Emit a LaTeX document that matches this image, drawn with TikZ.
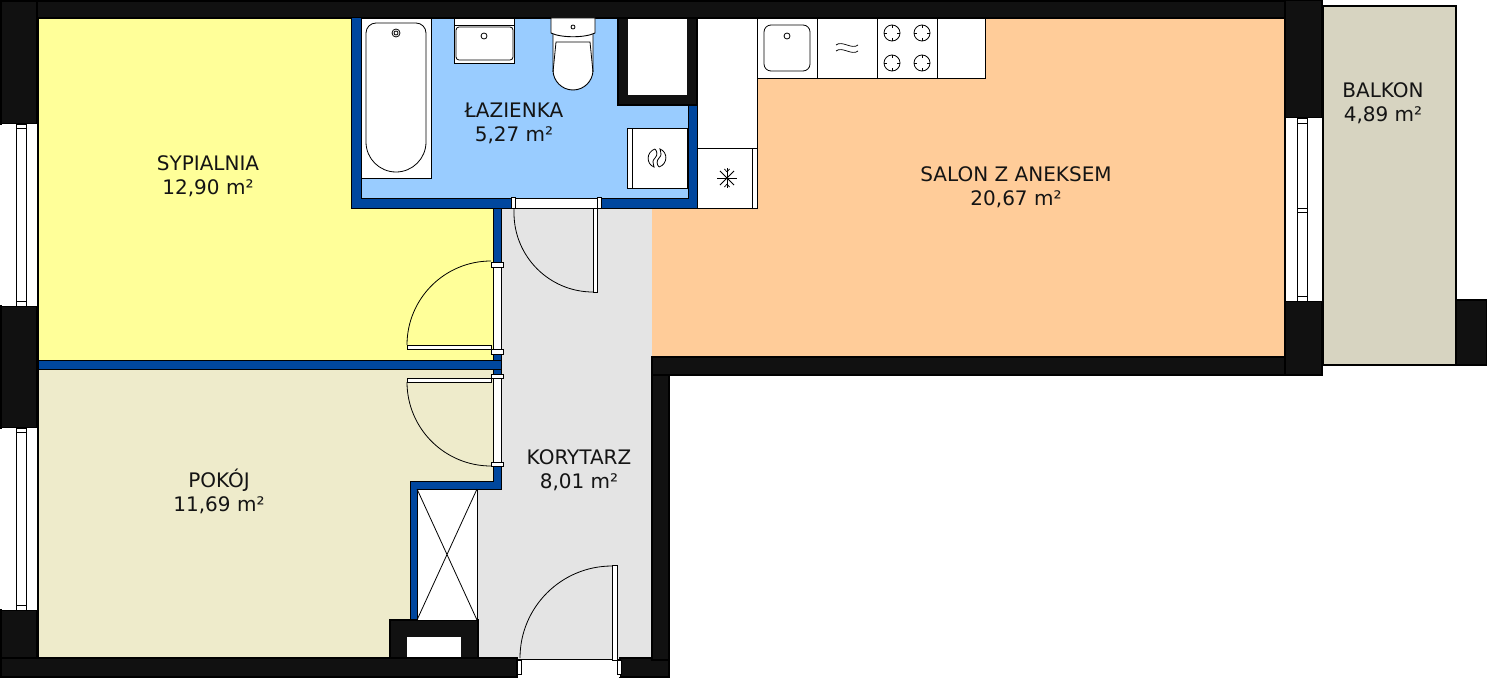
\documentclass[tikz,border=0pt]{standalone}
\usepackage{fontspec}
\setmainfont{DejaVu Sans}
\definecolor{wallc}{HTML}{111111}
\definecolor{bluewall}{HTML}{00479E}
\definecolor{sypialniac}{HTML}{FFFF99}
\definecolor{lazienkac}{HTML}{99CCFF}
\definecolor{salonc}{HTML}{FFCC99}
\definecolor{pokojc}{HTML}{EEEBCB}
\definecolor{korytarzc}{HTML}{E4E4E4}
\definecolor{balkonc}{HTML}{D7D4C1}
\tikzset{
  room/.style={fill=#1},
  wall/.style={fill=wallc,draw=black,line width=1.5pt},
  pwall/.style={fill=bluewall,draw=black,line width=1pt},
  fixture/.style={fill=white,draw=black,line width=.9pt},
  thinl/.style={draw=black,line width=.8pt},
  roomlabel/.style={font=\fontsize{20}{24}\selectfont,align=center,text=black!92,inner sep=0pt}
}
\begin{document}
\begin{tikzpicture}[x=1pt,y=-1pt]
\useasboundingbox (0,0) rectangle (1487,677);

\fill[room=sypialniac] (38,18) rectangle (497,360);
\fill[room=pokojc] (38,365) -- (497,365) -- (497,485) -- (414,485) -- (414,658) -- (38,658) -- cycle;
\fill[room=korytarzc] (501,205) -- (656,205) -- (656,660) -- (477,660) -- (477,489) -- (501,489) -- cycle;
\fill[room=salonc] (652,18) rectangle (1285,360);
\fill[room=lazienkac] (355,18) rectangle (692,203);
\draw[room=balkonc,draw=black,line width=1.2pt] (1323,6) rectangle (1456,365);

\draw[wall] (1,1) rectangle (1285,18);
\draw[wall] (1,1) rectangle (37,124);
\draw[wall] (1,306) rectangle (37,428);
\draw[wall] (1,610) rectangle (37,677);
\draw[wall] (1,658) rectangle (517,677);
\draw[wall] (620,658) rectangle (669,677);
\draw[wall] (652,357) rectangle (669,660);
\draw[wall] (652,357) rectangle (1322,375);
\draw[wall] (1285,0) rectangle (1322,118);
\draw[wall] (1285,301) rectangle (1322,375);
\draw[wall] (1456,300) rectangle (1487,365);

\draw[pwall] (351,18) -- (361,18) -- (361,198) -- (688,198) -- (688,100) -- (697,100) -- (697,208) -- (351,208) -- cycle;
\draw[pwall] (493,208) rectangle (501,360);
\draw[pwall] (38,360) rectangle (501,369);
\draw[pwall] (493,369) -- (501,369) -- (501,489) -- (417,489) -- (417,620) -- (410,620) -- (410,481) -- (493,481) -- cycle;

\draw[wall] (618,18) rectangle (697,105);
\draw[fixture,draw=none] (628,19) rectangle (687,95);
\draw[wall] (390,620) rectangle (478,658);
\draw[fixture,draw=none] (407,637) rectangle (461,657);

\draw[fixture] (417,489) rectangle (477,620);
\draw[thinl] (417,489) -- (477,620) (477,489) -- (417,620);

\draw[fixture] (361,18) rectangle (431,178);
\draw[thinl] (366,33) arc[start angle=180,end angle=270,radius=10] -- (416,23) arc[start angle=270,end angle=360,radius=10] -- (426,142) arc[start angle=0,end angle=180,radius=30] -- cycle;
\draw[thinl] (396,33) circle[radius=4];
\draw[thinl] (396,33) circle[radius=2];

\draw[fixture] (454,18) rectangle (514,63);
\draw[thinl] (454,25) -- (514,25);
\draw[thinl,rounded corners=3pt] (456,27) rectangle (513,60);
\draw[thinl] (484,36) circle[radius=3];

\draw[fixture] (553,33) -- (553,70) arc[start angle=180,end angle=0,radius=20] -- (593,33) -- cycle;
\draw[thinl] (553,72) -- (556,42) -- (590,42) -- (593,72);
\draw[fixture] (551,18) -- (595,18) -- (595,33) .. controls (585,38) and (561,38) .. (551,33) -- cycle;
\draw[thinl] (573,27) circle[radius=2];

\draw[fixture] (627,128) rectangle (687,188);
\draw[thinl] (632,128) -- (632,188);
\draw[thinl] (655,149) .. controls (646,152) and (646,164) .. (654,167) .. controls (653,162) and (652,161) .. (655,158) .. controls (658,155) and (657,151) .. (655,149);
\draw[thinl] (659,167) .. controls (668,164) and (668,152) .. (660,149) .. controls (661,154) and (662,155) .. (659,158) .. controls (656,161) and (657,165) .. (659,167);

\draw[fixture] (697,18) rectangle (757,148);
\draw[fixture] (697,148) rectangle (757,208);
\draw[thinl] (752,148) -- (752,208);
\foreach \ang in {0,45,...,315} {
  \draw[line width=.9pt] (727,178) -- ++(\ang:10);
}
\foreach \ang in {90,270} {
  \draw[line width=.7pt] (727,178) ++(\ang:6) -- ++(\ang+40:4) (727,178) ++(\ang:6) -- ++(\ang-40:4);
}

\draw[fixture] (757,18) rectangle (817,78);
\draw[fixture] (817,18) rectangle (877,78);
\draw[fixture] (877,18) rectangle (937,78);
\draw[fixture] (937,18) rectangle (985,78);
\draw[thinl,rounded corners=7pt] (764,25) rectangle (810,71);
\draw[thinl] (787,36) circle[radius=3];
\foreach \yw in {45,51} {
  \draw[line width=.7pt] (836,\yw) .. controls (842,\yw-5) and (852,\yw+5) .. (858,\yw);
}
\foreach \xb in {892,922} {
  \foreach \yb in {33,63} {
    \draw[thinl] (\xb,\yb) circle[radius=8];
    \draw[line width=.7pt] (\xb-8,\yb) -- (\xb-5,\yb) (\xb+5,\yb) -- (\xb+8,\yb) (\xb,\yb-8) -- (\xb,\yb-5) (\xb,\yb+5) -- (\xb,\yb+8);
  }
}

\draw[fixture,draw=none] (2,124) rectangle (37,306);
\draw[fixture] (16.5,124) rectangle (26.5,306);
\draw[thinl] (16.5,128) -- (26.5,128) (16.5,301) -- (26.5,301);
\draw[fixture,draw=none] (2,428) rectangle (37,610);
\draw[fixture] (16.5,428) rectangle (26.5,610);
\draw[thinl] (16.5,432) -- (26.5,432) (16.5,605) -- (26.5,605);
\draw[line width=1.5pt] (37.8,18) -- (37.8,658);
\draw[fixture,draw=none] (1286,118) rectangle (1322,301);
\draw[fixture] (1297,118) rectangle (1307,301);
\draw[thinl] (1297,123) -- (1307,123) (1297,208) -- (1307,208) (1297,212) -- (1307,212) (1297,296) -- (1307,296);
\draw[line width=1.5pt] (1285,18) -- (1285,357);

\draw[fixture] (512,198) rectangle (600,208);
\draw[fixture] (511,197) rectangle (515,208);
\draw[fixture] (597,197) rectangle (601,208);
\draw[fixture] (593,208) rectangle (597,292);
\draw[thinl] (593,292) arc[start angle=90,end angle=180,radius=79] -- ++(0,-5);

\draw[fixture] (493,265) rectangle (501,352);
\draw[fixture] (491,262) rectangle (503,267);
\draw[fixture] (491,349) rectangle (503,354);
\draw[fixture] (407,345) -- (491,345) -- (491,349) -- (407,349) -- cycle;
\draw[thinl] (407,345) arc[start angle=180,end angle=270,radius=84];

\draw[fixture] (493,376) rectangle (501,463);
\draw[fixture] (491,374) rectangle (503,378);
\draw[fixture] (491,462) rectangle (503,466);
\draw[fixture] (407,378) -- (491,378) -- (491,382) -- (407,382) -- cycle;
\draw[thinl] (407,382) arc[start angle=180,end angle=90,radius=84];

\draw[fill=white,draw=none] (518,659) rectangle (620,677);
\draw[thinl] (517,659) -- (620,659);
\draw[fixture] (517,660) rectangle (521,674);
\draw[fixture] (617,660) rectangle (621,674);
\draw[fixture] (612,565) rectangle (617,660);
\draw[thinl] (520,658) arc[start angle=180,end angle=270,radius=92];

\node[roomlabel] (sypialnia) at (208,176) {SYPIALNIA\\12,90 m²};
\node[roomlabel] (lazienka) at (514,123) {ŁAZIENKA\\5,27 m²};
\node[roomlabel] (salon) at (1016,187) {SALON Z ANEKSEM\\20,67 m²};
\node[roomlabel] (balkon) at (1383,103) {BALKON\\4,89 m²};
\node[roomlabel] (pokoj) at (219,491) {POKÓJ\\11,69 m²};
\node[roomlabel] (korytarz) at (579,470) {KORYTARZ\\8,01 m²};

\end{tikzpicture}
\end{document}
